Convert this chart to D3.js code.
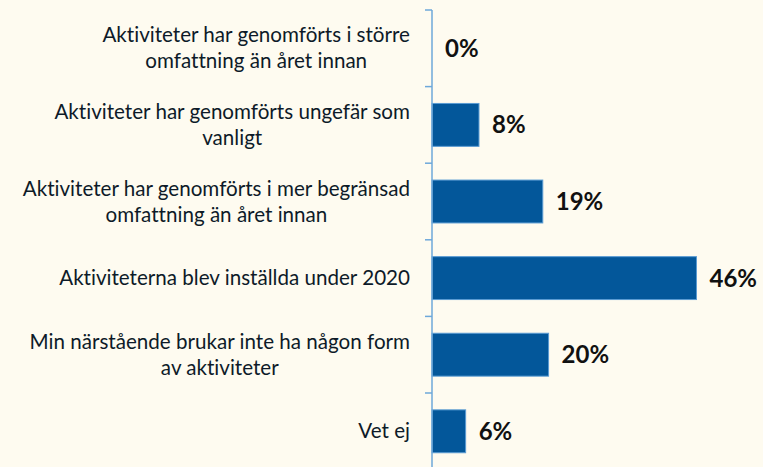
<!DOCTYPE html>
<head>
<meta charset="utf-8">
<title>Aktiviteter 2020</title>
<script src="https://cdn.jsdelivr.net/npm/d3@7"></script>
<style>
body { margin: 0; background: #fefbf0; }
svg { display: block; }
text { font-variant-ligatures: none; }
.label { font-family: Lato, sans-serif; fill: #0d1a28; }
.value { font-family: Lato, sans-serif; font-weight: bold; fill: #111111; }
</style>
</head>

<body>
<script>
// categories, top to bottom
var categories = [
    "Aktiviteter har genomförts i större omfattning än året innan",
    "Aktiviteter har genomförts ungefär som vanligt",
    "Aktiviteter har genomförts i mer begränsad omfattning än året innan",
    "Aktiviteterna blev inställda under 2020",
    "Min närstående brukar inte ha någon form av aktiviteter",
    "Vet ej"
];
// how the labels wrap in the picture
var labelLines = [
    ["Aktiviteter har genomförts i större", "omfattning än året innan"],
    ["Aktiviteter har genomförts ungefär som", "vanligt"],
    ["Aktiviteter har genomförts i mer begränsad", "omfattning än året innan"],
    ["Aktiviteterna blev inställda under 2020"],
    ["Min närstående brukar inte ha någon form", "av aktiviteter"],
    ["Vet ej"]
];
// bar lengths (labels show them rounded)
var values = [0, 8.1, 19.1, 45.6, 20.1, 5.8];

var width = 763, height = 467;
var axisX = 432;
var labelRight = 410;

var svg = d3.select("body").append("svg")
    .attr("width", width)
    .attr("height", height);

var y = d3.scaleBand()
    .domain(categories)
    .range([10, 469.6])
    .paddingInner(0.44)
    .paddingOuter(0.22);

var x = d3.scaleLinear()
    .domain([0, 50])
    .range([axisX, axisX + 290]);

// bars
svg.selectAll("rect.bar")
    .data(categories)
    .enter().append("rect")
    .attr("class", "bar")
    .attr("x", x(0))
    .attr("y", function(d) { return y(d); })
    .attr("width", function(d, i) { return x(values[i]) - x(0); })
    .attr("height", y.bandwidth())
    .style("fill", "#03579a")
    .style("stroke", function(d, i) { return values[i] > 0 ? "#5a9bd3" : "none"; })
    .style("stroke-width", 1);

// axis line + ticks at band boundaries
var step = y.step();
var top0 = y.range()[0];
svg.append("line")
    .attr("x1", axisX).attr("x2", axisX)
    .attr("y1", top0).attr("y2", height + 5)
    .style("stroke", "#6ea8da")
    .style("stroke-width", 1.5);

svg.selectAll("line.tick")
    .data(d3.range(categories.length + 1))
    .enter().append("line")
    .attr("class", "tick")
    .attr("x1", axisX - 7).attr("x2", axisX)
    .attr("y1", function(i) { return top0 + i * step; })
    .attr("y2", function(i) { return top0 + i * step; })
    .style("stroke", "#6ea8da")
    .style("stroke-width", 1.5);

// category labels (centered lines, block right-aligned)
var labelSize = 20.6;
var lineH = 26;
var groups = svg.selectAll("g.lab")
    .data(categories)
    .enter().append("g")
    .attr("class", "lab");

groups.each(function(d, i) {
    var g = d3.select(this);
    var lines = labelLines[i];
    var cy = y(d) + y.bandwidth() / 2;
    var texts = lines.map(function(l, j) {
        return g.append("text")
            .attr("class", "label")
            .attr("font-size", labelSize + "px")
            .attr("text-anchor", "middle")
            .attr("y", cy + (j - (lines.length - 1) / 2) * lineH + 7)
            .text(l);
    });
    var maxW = d3.max(texts, function(t) { return t.node().getComputedTextLength(); });
    texts.forEach(function(t) { t.attr("x", labelRight - maxW / 2); });
});

// value labels
svg.selectAll("text.value")
    .data(categories)
    .enter().append("text")
    .attr("class", "value")
    .attr("font-size", "24px")
    .attr("x", function(d, i) { return x(values[i]) + 13; })
    .attr("y", function(d) { return y(d) + y.bandwidth() / 2 + 8.5; })
    .text(function(d, i) { return Math.round(values[i]) + "%"; });
</script>
</body>
